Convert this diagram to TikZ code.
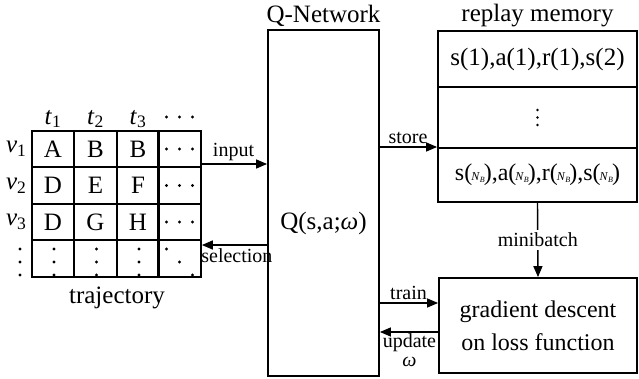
\documentclass[tikz,border=0pt]{standalone}
\usepackage{fontspec}
\setmainfont{Liberation Serif}
\usetikzlibrary{arrows.meta}

\newcommand{\nB}{{\fontsize{12}{12}\selectfont\kern-1pt\textit{N}\textsubscript{\textit{B}}\kern-1.5pt}}

\tikzset{
	cell/.style={draw, line width=2.2pt, minimum width=42.5, minimum height=36.5, inner sep=0pt},
	box/.style={draw, line width=1.8pt, inner sep=0pt},
	lbl/.style={font=\fontsize{20}{20}\selectfont, inner sep=3pt},
	arr/.style={->, line width=1.4pt},
}

\begin{document}
\begin{tikzpicture}[x=1pt, y=-1pt, every node/.style={font=\fontsize{25}{28}\selectfont}, >={Triangle[length=11pt,width=9pt]}]
	\useasboundingbox (0,0) rectangle (639,378);
	% trajectory table
	\foreach \r/\y in {1/149,2/185.5,3/222,4/258.5} {\foreach \c/\x in {1/53,2/95.5,3/138,4/179.5} {
		\node[cell] (c\r\c) at (\x,\y) {};
	}}
	\foreach \r/\c/\t in {1/1/A,1/2/B,1/3/B,2/1/D,2/2/E,2/3/F,3/1/D,3/2/G,3/3/H}
		\node (t\r\c) at (c\r\c) {\t};
	\foreach \c/\x in {1/53,2/95.5,3/138}
		\node (tt\c) at (\x,119) {\textit{t}\textsubscript{\c}};
	\foreach \r in {1,2,3}
		\node[anchor=east] (v\r) at (c\r1.center -| 30,0) {\textit{v}\textsubscript{\r}};
	% dots
	\foreach \dx in {-13,0,13} {
		\fill (179.5+\dx,117) circle (1.7);
		\foreach \r in {1,2,3} \fill ([xshift=\dx]c\r4.center) circle (1.7);
		\fill (20,262+\dx) circle (1.7);
		\foreach \c in {1,2,3} \fill ([xshift=1, yshift=\dx-3.5]c4\c.center) circle (1.7);
		\fill ([xshift=\dx,yshift=-\dx-3.5]c44.center) circle (1.7);
	}
	\node (traj) at (117,298) {trajectory};
	% Q-network
	\node[box, minimum width=111, minimum height=346] (qnet) at (323.5,203) {};
	\node (qname) at (323.5,16) {Q-Network};
	\node (qfun) at (323.5,223) {Q(s,a;\textit{ω})};
	% replay memory
	\node[box, minimum width=199, minimum height=56] (mem1) at (537.5,59) {s(1),a(1),r(1),s(2)};
	\node[box, minimum width=199, minimum height=61] (mem2) at (537.5,117.5) {};
	\foreach \dy in {-7.5,0,7.5} \fill ([yshift=\dy]mem2.center) circle (1.3);
	\node[box, minimum width=199, minimum height=54, font=\fontsize{24}{28}\selectfont] (mem3) at (537.5,175) {s(\nB),a(\nB),r(\nB),s(\nB)};
	\node (mname) at (537.5,16) {replay memory};
	% gradient descent
	\node[box, minimum width=198, minimum height=95, align=center, font=\fontsize{24}{33}\selectfont] (grad) at (538,325.5) {gradient descent\\on loss function};
	% connectors
	\coordinate (inA) at (200,164);
	\coordinate (selA) at (268,245);
	\coordinate (stA) at (379,147);
	\coordinate (trA) at (379,303);
	\coordinate (upA) at (439,332);
	\draw[arr] (inA) -- (inA -| qnet.west) node[lbl, midway, above] {input};
	\draw[arr] (selA) -- (selA -| c44.east) node[lbl, midway, below, xshift=2] {selection};
	\draw[arr] (stA) -- (stA -| mem3.west) node[lbl, midway, above] {store};
	\draw[arr] (trA) -- (trA -| grad.west) node[lbl, midway, above] {train};
	\draw[arr] (upA) -- (upA -| qnet.east) node[lbl, midway, below, align=center, font=\fontsize{20}{19}\selectfont, inner sep=1pt] {update\\\textit{ω}};
	\draw[arr] (mem3.south) -- (grad.north) node[lbl, midway, fill=white] {minibatch};
\end{tikzpicture}
\end{document}
